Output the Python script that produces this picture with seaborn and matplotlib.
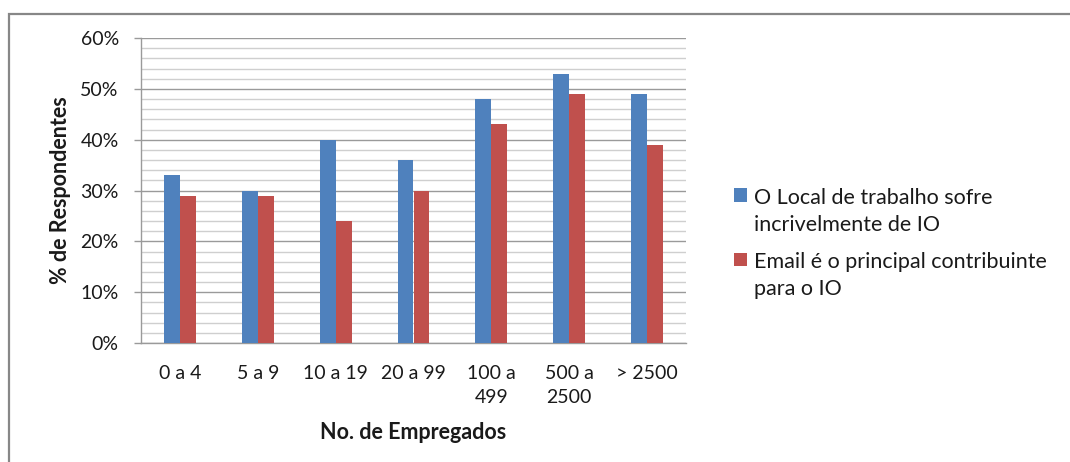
import matplotlib
matplotlib.use("Agg")
import matplotlib.pyplot as plt
from matplotlib.patches import Rectangle, Patch
from matplotlib.legend_handler import HandlerPatch
from matplotlib.ticker import MultipleLocator, FuncFormatter
import seaborn as sns
import pandas as pd

categories = ["0 a 4", "5 a 9", "10 a 19", "20 a 99", "100 a\n499", "500 a\n2500", "> 2500"]
series_names = ["O Local de trabalho sofre\nincrivelmente de IO",
                "Email é o principal contribuinte\npara o IO"]
local_trabalho = [33, 30, 40, 36, 48, 53, 49]
email_contrib = [29, 29, 24, 30, 43, 49, 39]
colors = ["#4F81BD", "#C0504D"]

df = pd.DataFrame({
    "cat": categories * 2,
    "serie": [series_names[0]] * len(categories) + [series_names[1]] * len(categories),
    "val": local_trabalho + email_contrib,
})

sns.set_style("white")
plt.rcParams["font.family"] = ["Lato", "DejaVu Sans"]
TICK_FS = 14
LEG_FS = 15.5
LAB_FS = 15.5
TXT = "#1a1a1a"


class FirstLineSquare(HandlerPatch):
    """Square legend key aligned with the first line of a two-line label."""

    def __init__(self, shift, **kw):
        super().__init__(**kw)
        self.shift = shift

    def create_artists(self, legend, orig_handle, xdescent, ydescent,
                       width, height, fontsize, trans):
        return super().create_artists(legend, orig_handle, xdescent,
                                      ydescent - self.shift, width, height,
                                      fontsize, trans)


fig = plt.figure(figsize=(10.7, 4.62), dpi=100)
ax = fig.add_axes([141 / 1070, 1 - 343 / 462, 545 / 1070, 305 / 462])

# outer chart border
fig.patches.append(Rectangle((9 / 1070, -0.05), 1.1, 1 - 14 / 462 + 0.05,
                             transform=fig.transFigure, fill=False,
                             edgecolor="#878787", linewidth=1.6, zorder=0))

sns.barplot(data=df, x="cat", y="val", hue="serie", palette=colors,
            width=0.41, gap=0, saturation=1, ax=ax, legend=False,
            edgecolor="none", zorder=3)

ax.set_ylim(0, 60)
ax.set_xlim(-0.5, len(categories) - 0.5)
ax.yaxis.set_major_locator(MultipleLocator(10))
ax.yaxis.set_minor_locator(MultipleLocator(2))
ax.yaxis.set_major_formatter(FuncFormatter(lambda v, p: f"{int(v)}%"))
ax.grid(axis="y", which="major", color="#9a9a9a", linewidth=1.0, zorder=0)
ax.grid(axis="y", which="minor", color="#cfcfcf", linewidth=1.0, zorder=0)
ax.set_axisbelow(True)

for s in ["top", "right"]:
    ax.spines[s].set_visible(False)
for s in ["left", "bottom"]:
    ax.spines[s].set_color("#9a9a9a")
    ax.spines[s].set_linewidth(1.0)

ax.tick_params(axis="y", which="major", direction="out", length=5, width=1,
               color="#9a9a9a", pad=11, labelsize=TICK_FS, labelcolor=TXT, left=True)
ax.tick_params(axis="y", which="minor", length=0)
ax.tick_params(axis="x", length=0, pad=15.5, labelsize=TICK_FS, labelcolor=TXT)
for lbl in ax.get_xticklabels():
    lbl.set_multialignment("center")
    lbl.set_verticalalignment("top")
    lbl.set_linespacing(1.5)

ax.set_xlabel("No. de Empregados", fontsize=LAB_FS, fontweight="bold",
              labelpad=12, color=TXT)
ax.set_ylabel("% de Respondentes", fontsize=LAB_FS, fontweight="bold",
              labelpad=7, color=TXT)

handles = [Patch(facecolor=c, edgecolor="none") for c in colors]
leg = fig.legend(handles, series_names, loc="upper left",
                 bbox_to_anchor=(723 / 1070, 1 - 177 / 462), frameon=False,
                 fontsize=LEG_FS, handlelength=0.6, handleheight=0.6,
                 handletextpad=0.33, labelspacing=0.8, borderpad=0,
                 labelcolor=TXT,
                 handler_map={Patch: FirstLineSquare(shift=12.0)})
for t in leg.get_texts():
    t.set_linespacing(1.45)

fig.savefig("out.png", dpi=100)
